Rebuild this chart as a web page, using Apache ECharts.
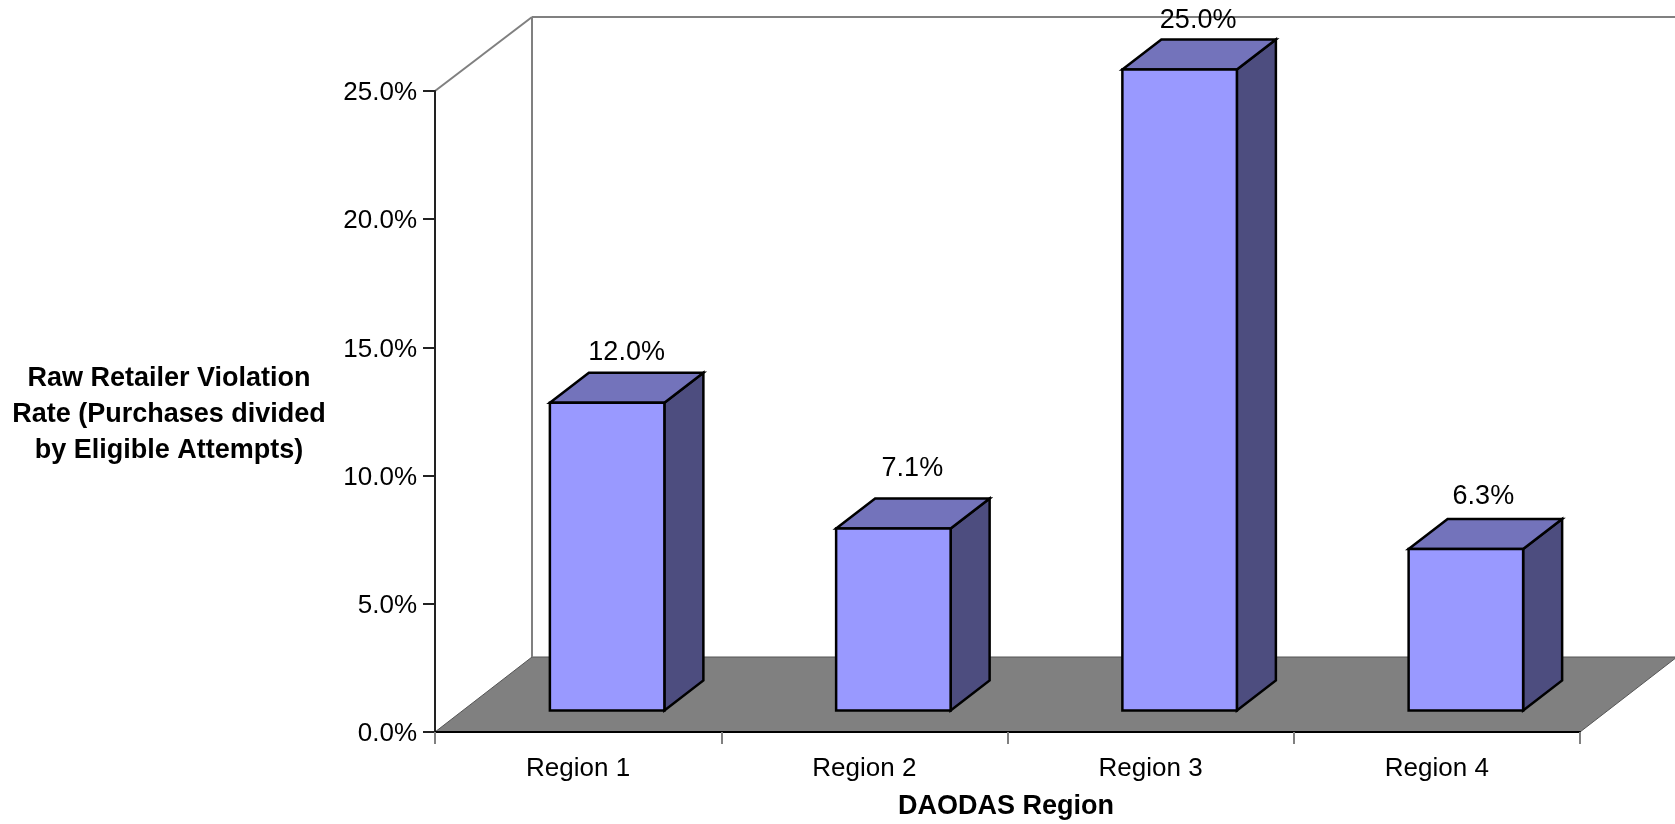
<!DOCTYPE html>
<html>
<head>
<meta charset="utf-8">
<style>html,body{margin:0;padding:0;background:#fff}#c{width:1675px;height:824px}</style>
<script src="https://cdn.jsdelivr.net/npm/echarts@6/dist/echarts.min.js"></script>
</head>
<body>
<div id="c"></div>
<script>
const categories = ['Region 1', 'Region 2', 'Region 3', 'Region 4'];
const rates = [12.0, 7.1, 25.0, 6.3];
const yTickMax = 25;
const yTickStep = 5;
const xTitle = 'DAODAS Region';
const yTitleLines = ['Raw Retailer Violation', 'Rate (Purchases divided', 'by Eligible Attempts)'];

const FONT = '"Liberation Sans", Arial, Helvetica, sans-serif';
const wallDX = 97, wallDY = 75, wallTopDY = 74, barDX = 39, barDY = 30, barFrac = 0.4;
const labelLift = [20.7, 30.3, 19.3, 22.8];
const labelNudge = [0, -0.5, -1, -2];
const FRONT = '#9999FF', TOP = '#7373BB', SIDE = '#4D4D7F', GREY = '#808080';

function renderWalls(params, api) {
  const cs = params.coordSys;
  const x0 = cs.x, x1 = cs.x + cs.width, yt = cs.y, yb = cs.y + cs.height;
  const line = (a, b, c, d) => ({
    type: 'line', shape: {x1: a, y1: b, x2: c, y2: d},
    style: {stroke: GREY, lineWidth: 2}, silent: true
  });
  return {type: 'group', children: [
    {type: 'polygon', shape: {points: [[x0, yb], [x0 + wallDX, yb - wallDY], [x1 + wallDX, yb - wallDY], [x1, yb]]},
     style: {fill: GREY, stroke: '#555', lineWidth: 1}, silent: true},
    line(x0 + wallDX, yb - wallDY, x0 + wallDX, yt - wallTopDY),
    line(x0, yt, x0 + wallDX, yt - wallTopDY),
    line(x0 + wallDX, yt - wallTopDY, x1 + wallDX, yt - wallTopDY)
  ]};
}

function renderBar(params, api) {
  const val = api.value(1);
  const base = api.coord([api.value(0), 0]);
  const head = api.coord([api.value(0), val]);
  const w = api.size([1, 0])[0] * barFrac;
  const ox = (wallDX - barDX) / 2, oy = 21.5;
  const l = base[0] + ox - w / 2, r = l + w;
  const b = base[1] - oy, t = head[1] - oy;
  const edge = {stroke: '#000', lineWidth: 2.5, lineJoin: 'miter'};
  return {type: 'group', children: [
    {type: 'polygon', shape: {points: [[r, b], [r + barDX, b - barDY], [r + barDX, t - barDY], [r, t]]},
     style: Object.assign({fill: SIDE}, edge)},
    {type: 'polygon', shape: {points: [[l, t], [l + barDX, t - barDY], [r + barDX, t - barDY], [r, t]]},
     style: Object.assign({fill: TOP}, edge)},
    {type: 'polygon', shape: {points: [[l, b], [r, b], [r, t], [l, t]]},
     style: Object.assign({fill: FRONT}, edge)},
    {type: 'text', z2: 10, style: {
      text: val.toFixed(1) + '%', x: (l + r) / 2 + barDX / 2 + labelNudge[params.dataIndex], y: t - barDY - labelLift[params.dataIndex],
      align: 'center', verticalAlign: 'middle', fill: '#000', font: '27px ' + FONT}}
  ]};
}

const chart = echarts.init(document.getElementById('c'), null, {renderer: 'canvas', width: 1675, height: 824});
chart.setOption({
  animation: false,
  backgroundColor: '#fff',
  textStyle: {fontFamily: FONT},
  grid: {left: 435, top: 91, width: 1145, height: 641, containLabel: false, outerBoundsMode: 'none'},
  xAxis: {
    type: 'category', data: categories, z: 5,
    name: xTitle, nameLocation: 'middle', nameGap: 61,
    nameTextStyle: {fontFamily: FONT, fontSize: 27, fontWeight: 'bold', color: '#000', padding: [0, 3, 0, 0]},
    axisLine: {show: true, lineStyle: {color: '#000', width: 2}},
    axisTick: {show: true, alignWithLabel: false, length: 12, lineStyle: {color: GREY, width: 2}},
    axisLabel: {color: '#000', fontFamily: FONT, fontSize: 26, margin: 24, interval: 0},
    splitLine: {show: false}
  },
  yAxis: {
    type: 'value', min: 0, max: yTickMax, interval: yTickStep, z: 5,
    name: '{s| }\n' + yTitleLines.map(s => '{n|' + s + '}').join('\n'),
    nameLocation: 'middle', nameGap: 266, nameRotate: 0,
    nameTextStyle: {
      align: 'center', verticalAlign: 'middle',
      rich: {
        s: {lineHeight: 6, fontSize: 2, align: 'center'},
        n: {fontFamily: FONT, fontSize: 27, fontWeight: 'bold', color: '#000', lineHeight: 36.4, align: 'center'}
      }
    },
    axisLine: {show: true, lineStyle: {color: '#222', width: 2}},
    axisTick: {show: true, length: 12, lineStyle: {color: '#222', width: 2}},
    axisLabel: {
      margin: 18, formatter: v => '{t|' + v.toFixed(1) + '%}',
      rich: {t: {color: '#000', fontFamily: FONT, fontSize: 26, padding: [4, 0, 0, 0]}}
    },
    splitLine: {show: false}
  },
  series: [
    {type: 'custom', z: 1, silent: true, renderItem: renderWalls, data: [[0, 0]], clip: false, encode: {x: 0, y: 1}},
    {type: 'custom', z: 3, silent: true, renderItem: renderBar, clip: false,
     data: categories.map((c, i) => [i, rates[i]]), encode: {x: 0, y: 1}}
  ]
});
</script>
</body>
</html>
